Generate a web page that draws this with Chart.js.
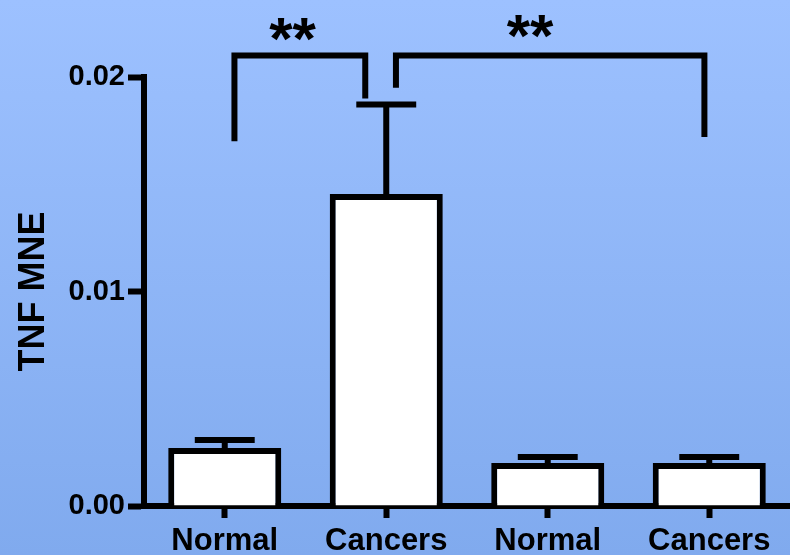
<!DOCTYPE html>
<html>
<head>
<meta charset="utf-8">
<script src="https://cdn.jsdelivr.net/npm/chart.js@4"></script>
<style>
  html, body { margin: 0; padding: 0; }
  body { width: 790px; height: 555px; background: linear-gradient(to bottom, #9dc1ff, #80aaee); }
  canvas { display: block; }
</style>
</head>
<body>
<canvas id="tnfChart" width="790" height="555"></canvas>
<script>
var categories = ["Normal", "Cancers", "Normal", "Cancers"];
var meanValues = [0.0027, 0.01455, 0.0020, 0.0020];
var errorTops = [0.00308, 0.01872, 0.00228, 0.00228];
var yTicks = [0, 0.01, 0.02];

// significance brackets (x in category index units, y in data units)
var bracketFrom = [0.06, 1.06];
var bracketTo = [0.87, 2.97];
var bracketTop = [0.0210, 0.0210];
var bracketFootFrom = [0.0170, 0.0195];
var bracketFootTo = [0.0190, 0.0172];
var starLabels = ["**", "**"];
var starX = [0.42, 1.89];
var starY = [0.02084, 0.02098];

var fontFamily = "'Liberation Sans', Arial, Helvetica, sans-serif";

var annotations = {
    id: 'annotations',
    afterDatasetsDraw: function(chart) {
        var c = chart.ctx;
        var xs = chart.scales.x;
        var ys = chart.scales.y;
        var meta = chart.getDatasetMeta(0);
        c.save();
        c.strokeStyle = '#000';
        c.fillStyle = '#000';
        c.lineWidth = 6;
        c.lineCap = 'butt';
        c.lineJoin = 'miter';

        // error bars (upper only)
        meta.data.forEach(function(bar, i) {
            var top = ys.getPixelForValue(errorTops[i]);
            var half = bar.width * 0.265;
            c.beginPath();
            c.moveTo(bar.x, bar.y);
            c.lineTo(bar.x, top);
            c.moveTo(bar.x - half, top);
            c.lineTo(bar.x + half, top);
            c.stroke();
        });

        // brackets
        for (var i = 0; i < bracketFrom.length; i++) {
            var x1 = xs.getPixelForValue(bracketFrom[i]);
            var x2 = xs.getPixelForValue(bracketTo[i]);
            var yt = ys.getPixelForValue(bracketTop[i]);
            c.beginPath();
            c.moveTo(x1, ys.getPixelForValue(bracketFootFrom[i]));
            c.lineTo(x1, yt);
            c.lineTo(x2, yt);
            c.lineTo(x2, ys.getPixelForValue(bracketFootTo[i]));
            c.stroke();
        }

        // stars
        c.font = 'bold 60px ' + fontFamily;
        c.textAlign = 'center';
        c.textBaseline = 'alphabetic';
        for (var j = 0; j < starLabels.length; j++) {
            c.fillText(starLabels[j], xs.getPixelForValue(starX[j]), ys.getPixelForValue(starY[j]));
        }
        c.restore();
    }
};

var ctx = document.getElementById('tnfChart').getContext('2d');
var chart = new Chart(ctx, {
    type: 'bar',
    data: {
        labels: categories,
        datasets: [{
            data: meanValues,
            backgroundColor: '#ffffff',
            borderColor: '#000000',
            borderWidth: 6,
            barPercentage: 0.7,
            categoryPercentage: 1.0
        }]
    },
    options: {
        responsive: false,
        devicePixelRatio: 1,
        animation: false,
        layout: { padding: { top: 77, right: 0, left: 0, bottom: 0 } },
        plugins: {
            legend: { display: false },
            tooltip: { enabled: false }
        },
        scales: {
            x: {
                offset: true,
                grid: {
                    offset: false,
                    drawOnChartArea: false,
                    drawTicks: true,
                    tickLength: 12,
                    tickWidth: 6,
                    tickColor: '#000'
                },
                border: { display: true, color: '#000', width: 6 },
                ticks: {
                    color: '#000',
                    padding: 5,
                    font: { family: fontFamily, size: 31, weight: 'bold' }
                },
                afterFit: function(scale) { scale.height = 49; }
            },
            y: {
                min: 0,
                max: 0.02,
                afterBuildTicks: function(scale) {
                    scale.ticks = yTicks.map(function(v) { return { value: v }; });
                },
                grid: {
                    drawOnChartArea: false,
                    drawTicks: true,
                    tickLength: 16,
                    tickWidth: 6,
                    tickColor: '#000'
                },
                border: { display: true, color: '#000', width: 6 },
                ticks: {
                    color: '#000',
                    padding: 3,
                    font: { family: fontFamily, size: 29, weight: 'bold' },
                    callback: function(v) { return v.toFixed(2); }
                },
                title: {
                    display: true,
                    text: 'TNF MNE',
                    color: '#000',
                    padding: { top: 12, bottom: 0 },
                    font: { family: fontFamily, size: 36, weight: 'bold' }
                },
                afterFit: function(scale) { scale.width = 144; }
            }
        }
    },
    plugins: [annotations]
});
</script>
</body>
</html>
